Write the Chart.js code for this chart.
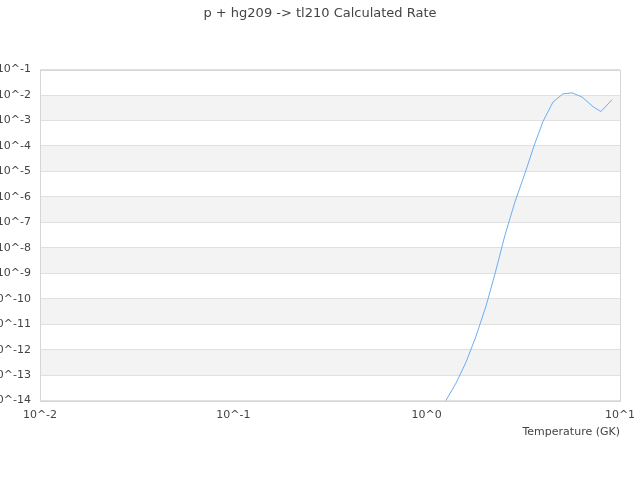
<!DOCTYPE html>
<html>
<head>
  <meta charset="utf-8">
  <script src="https://cdn.jsdelivr.net/npm/chart.js"></script>
  <style>
    html, body { margin: 0; padding: 0; background: #fff; }
    #wrap { width: 640px; height: 480px; }
  </style>
</head>
<body>
  <div id="wrap"><canvas id="rateChart"></canvas></div>

  <script>
    // Temperature (GK) and calculated rate
    const temperatures = [1.13, 1.42, 1.6, 1.8, 2.03, 2.26, 2.54, 2.86, 3.23, 3.59, 4.0, 4.5, 5.07, 5.65, 6.36, 7.25, 7.97, 9.09];
    const rates = [2.5e-15, 4.9e-14, 3.3e-13, 3.4e-12, 5.3e-11, 1.0e-9, 3.1e-8, 6.3e-7, 8.8e-6, 1.0e-4, 9.3e-4, 5.3e-3, 1.12e-2, 1.22e-2, 8.4e-3, 3.5e-3, 2.25e-3, 6.6e-3];

    // decade exponents used as tick labels
    const xTickExps = [-2, -1, 0, 1];
    const yTickExps = [-14, -13, -12, -11, -10, -9, -8, -7, -6, -5, -4, -3, -2, -1];

    const titleText = 'p + hg209 -> tl210 Calculated Rate';
    const xTitle = 'Temperature (GK)';

    const textColor = '#444';
    const gridColor = '#e0e0e0';

    // alternating grey bands between decades + frame around the plot
    const bandsPlugin = {
      id: 'bands',
      beforeDraw(chart) {
        const { ctx, chartArea: a, scales: { y } } = chart;
        ctx.save();
        ctx.fillStyle = '#f3f3f3';
        for (let k = 0; k < yTickExps.length - 1; k++) {
          if (k % 2 === 1) {
            const y0 = y.getPixelForValue(Math.pow(10, yTickExps[k]));
            const y1 = y.getPixelForValue(Math.pow(10, yTickExps[k + 1]));
            ctx.fillRect(a.left, y1, a.right - a.left, y0 - y1);
          }
        }
        ctx.restore();
      },
      afterDatasetsDraw(chart) {
        const { ctx, chartArea: a } = chart;
        ctx.save();
        ctx.strokeStyle = '#d6d6d6';
        ctx.lineWidth = 1;
        ctx.strokeRect(Math.round(a.left) + 0.5, Math.round(a.top) + 0.5,
          Math.round(a.right - a.left), Math.round(a.bottom - a.top));
        ctx.restore();
      }
    };

    const expLabel = (v) => '10^' + Math.round(Math.log10(v));

    new Chart(document.getElementById('rateChart'), {
      type: 'line',
      data: {
        labels: temperatures,
        datasets: [{
          label: 'rate',
          data: temperatures.map((t, i) => ({ x: t, y: rates[i] })),
          borderColor: '#6aaef2',
          borderWidth: 1,
          pointRadius: 0,
          tension: 0,
          fill: false
        }]
      },
      options: {
        responsive: true,
        maintainAspectRatio: false,
        animation: false,
        layout: { padding: { left: 0, right: 0, top: 0, bottom: 41 } },
        plugins: {
          legend: { display: false },
          tooltip: { enabled: false },
          title: {
            display: true,
            text: titleText,
            color: textColor,
            font: { family: 'DejaVu Sans', size: 13, weight: 'normal' },
            padding: { top: 6, bottom: 48 }
          }
        },
        scales: {
          x: {
            type: 'logarithmic',
            min: 0.01,
            max: 10,
            afterBuildTicks: (s) => { s.ticks = xTickExps.map(e => ({ value: Math.pow(10, e) })); },
            afterFit: (s) => { s.paddingLeft = 0; s.paddingRight = 20; },
            grid: { display: false, drawTicks: false },
            border: { display: false },
            ticks: {
              color: textColor,
              font: { family: 'DejaVu Sans', size: 11 },
              padding: 8,
              maxRotation: 0,
              autoSkip: false,
              callback: (v) => expLabel(v)
            },
            title: {
              display: true,
              text: xTitle,
              align: 'end',
              color: textColor,
              font: { family: 'DejaVu Sans', size: 11 },
              padding: { top: -4, bottom: 0 }
            }
          },
          y: {
            type: 'logarithmic',
            min: 1e-14,
            max: 1e-1,
            afterBuildTicks: (s) => { s.ticks = yTickExps.map(e => ({ value: Math.pow(10, e) })); },
            afterFit: (s) => { s.width = 40; },
            grid: { color: gridColor, drawTicks: false },
            border: { display: false },
            ticks: {
              color: textColor,
              font: { family: 'DejaVu Sans', size: 11 },
              padding: 9,
              autoSkip: false,
              callback: (v) => expLabel(v)
            }
          }
        }
      },
      plugins: [bandsPlugin]
    });
  </script>
</body>
</html>
